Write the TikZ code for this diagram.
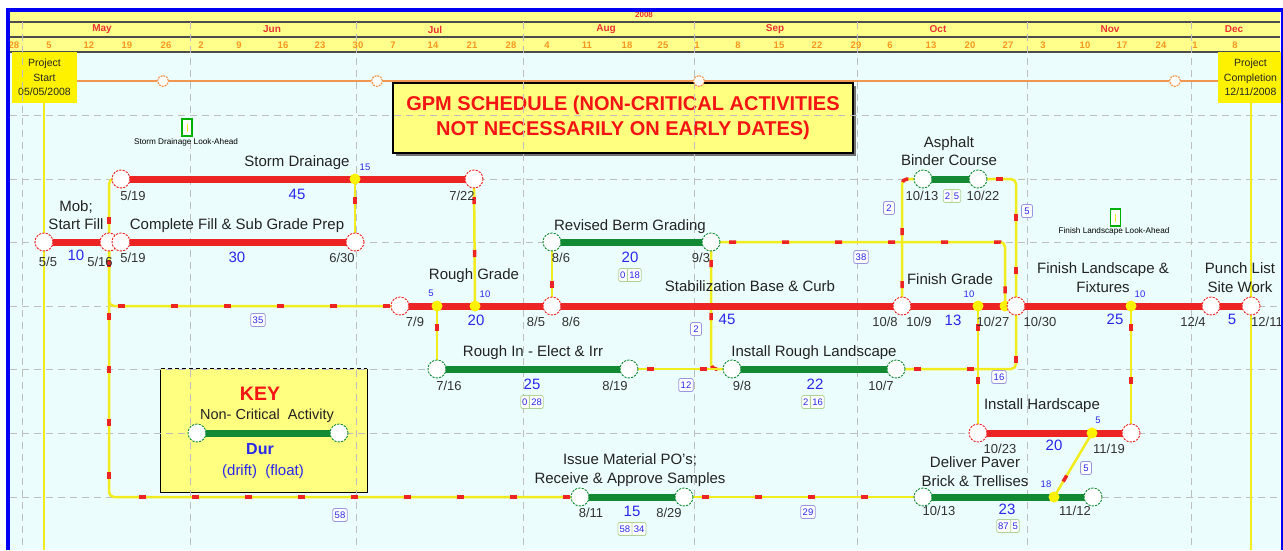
\documentclass[tikz,border=0pt]{standalone}
\usepackage{fontspec}
\setmainfont{Liberation Sans}
\usetikzlibrary{shapes.multipart,calc}
\pgfdeclarelayer{bg}
\pgfdeclarelayer{grid}
\pgfdeclarelayer{links}
\pgfdeclarelayer{bars}
\pgfdeclarelayer{fg}
\pgfsetlayers{bg,grid,links,bars,main,fg}
\definecolor{bgcyan}{RGB}{236,253,253}
\definecolor{hdryel}{RGB}{255,255,140}
\definecolor{boxyel}{RGB}{255,255,128}
\definecolor{frameblue}{RGB}{0,0,245}
\definecolor{critc}{RGB}{236,36,36}
\definecolor{ncritc}{RGB}{18,138,52}
\definecolor{linkyel}{RGB}{240,236,30}
\definecolor{numblue}{RGB}{40,40,235}
\definecolor{datec}{RGB}{50,50,50}
\definecolor{actc}{RGB}{35,35,35}
\definecolor{gridc}{RGB}{190,190,190}
\definecolor{orangec}{RGB}{240,150,80}
\definecolor{dayorange}{RGB}{245,150,30}
\definecolor{monred}{RGB}{235,50,50}
\definecolor{fboxc}{RGB}{150,150,225}
\definecolor{dfboxc}{RGB}{175,210,150}
\definecolor{titlered}{RGB}{245,20,20}
\definecolor{lookgreen}{RGB}{0,175,0}
\newcommand{\myfs}[2]{\fontsize{#1}{#2}\selectfont}
\tikzset{
  critn/.style={circle, draw=critc, fill=white, minimum size=18pt, inner sep=0pt, line width=0.9pt, dash pattern=on 2.2pt off 1.2pt},
  ncritn/.style={critn, draw=ncritc},
  ydot/.style={circle, fill=yellow, minimum size=11pt, inner sep=0pt},
  redbar/.style={line width=7pt, draw=critc},
  greenbar/.style={line width=7pt, draw=ncritc},
  link/.style={draw=linkyel, line width=2.5pt, rounded corners=5pt,
    postaction={draw=critc, line width=3.5pt, dash pattern=on 7pt off 46pt, dash phase=35pt}},
  yline/.style={draw=linkyel, line width=2pt},
  orangeline/.style={draw=orangec, line width=1.5pt},
  gridline/.style={draw=gridc, line width=1pt, dash pattern=on 7pt off 5pt},
  hdrline/.style={draw=black!70, line width=1.3pt},
  act/.style={font=\myfs{15}{18.5}, text=actc, inner sep=0pt, align=center},
  datel/.style={font=\myfs{13}{13}, text=datec, inner sep=0pt},
  durl/.style={font=\myfs{15}{15}, text=numblue, inner sep=0pt},
  sml/.style={font=\myfs{9.5}{9.5}, text=numblue, inner sep=0pt},
  fbox/.style={draw=fboxc, line width=0.8pt, fill=white, rounded corners=2pt, inner xsep=2pt, inner ysep=1.5pt, font=\myfs{9.5}{9.5}, text=numblue, minimum height=13pt, minimum width=11pt},
  dfpair/.style={rectangle split, rectangle split horizontal, rectangle split parts=2, draw=dfboxc, line width=0.8pt, fill=white, rounded corners=2pt, inner xsep=1.5pt, inner ysep=1.5pt, font=\myfs{9.5}{9.5}, text=numblue, minimum height=13pt},
  monlab/.style={font=\bfseries\myfs{10}{10}, text=monred, inner sep=0pt},
  daylab/.style={font=\bfseries\myfs{9.5}{9.5}, text=dayorange, inner sep=0pt},
  msbox/.style={fill=yellow, minimum width=65pt, minimum height=51pt, inner sep=0pt, align=center, font=\myfs{10.5}{14.5}, text=black!85},
  msicon/.style={circle, draw=orangec, fill=white, minimum size=11pt, inner sep=0pt, line width=1.2pt, dash pattern=on 2pt off 1pt},
  lookicon/.style={draw=lookgreen, line width=1.2pt, fill=white, minimum width=10pt, minimum height=17pt, inner sep=0pt},
  looktxt/.style={font=\myfs{8.2}{8.2}, text=black, inner sep=0pt},
}
\begin{document}
\begin{tikzpicture}[x=1pt,y=-1pt]
\useasboundingbox (0,0) rectangle (1283,550);

% ---------- background ----------
\begin{pgfonlayer}{bg}
\fill[white] (0,0) rectangle (1283,550);
\fill[bgcyan] (10,11) rectangle (1280,550);
\fill[hdryel] (10,11) rectangle (1280,52);
\foreach \yy in {22,37,52} \draw[hdrline] (10,\yy) -- (1280,\yy);
\node[msbox] (startbox) at (44.5,77.5) {Project\\Start\\05/05/2008};
\node[msbox] (compbox) at (1250.5,77.5) {Project\\Completion\\12/11/2008};
\fill[black!55] (396,86) rectangle (855.5,155.5);
\node[fill=boxyel, draw=black, line width=1.2pt, minimum width=460pt, minimum height=70pt, inner sep=0pt, align=center, font=\bfseries\myfs{20}{25}, text=titlered] (title) at (623,118) {GPM SCHEDULE (NON-CRITICAL ACTIVITIES\\NOT NECESSARILY ON EARLY DATES)};
\node[fill=boxyel, minimum width=206pt, minimum height=123pt, inner sep=0pt] (key) at (264,430.5) {};
\draw[line width=1.2pt] (key.north west) -- (key.south west) -- (key.south east) -- (key.north east);
\draw[line width=1.2pt, dash pattern=on 4pt off 3pt] (key.north west) -- (key.north east);
\end{pgfonlayer}

% ---------- grid ----------
\begin{pgfonlayer}{grid}
\foreach \xx in {22,190.5,356,523.5,694,857,1027,1191} \draw[gridline] (\xx,22) -- (\xx,550);
\foreach \yy in {115,179,242,306,369,433,497} \draw[gridline] (10,\yy) -- (1280,\yy);
\end{pgfonlayer}

% ---------- header text ----------
\node[font=\bfseries\myfs{8}{8}, text=monred, inner sep=0pt] (year) at (644,14.5) {2008};
\foreach \xx/\mm [count=\i] in {102/May,272/Jun,435/Jul,606/Aug,775/Sep,938/Oct,1110/Nov,1234/Dec}
  {\node[monlab] (mon\i) at (\xx,29.5) {\mm};}
\foreach \xx/\dd [count=\i] in {14/28,49/5,89/12,127/19,166/26,201/2,239/9,283/16,320/23,358/30,393/7,433/14,472/21,511/28,547/4,587/11,627/18,663/25,697/1,738/8,779/15,817/22,856/29,890/6,931/13,970/20,1008/27,1043/3,1085/10,1122/17,1161/24,1195/1,1235/8}
  {\node[daylab] (day\i) at (\xx,45) {\dd};}

% ---------- milestone icons & look-ahead ----------
\node[msicon] (m1) at (163,81) {};
\node[msicon] (m2) at (377,81) {};
\node[msicon] (m3) at (699,81) {};
\node[msicon] (m4) at (1175,81) {};
\node[lookicon] (la1) at (187,127.5) {\color{linkyel}\rule{1pt}{8pt}};
\node[looktxt] (lt1) at (186,142) {Storm Drainage Look-Ahead};
\node[lookicon] (la2) at (1115.5,217.5) {\color{linkyel}\rule{1pt}{8pt}};
\node[looktxt] (lt2) at (1114,231) {Finish Landscape Look-Ahead};

% ---------- event nodes ----------
\node[critn] (s55) at (44,242) {};
\node[critn] (s516) at (109,242) {};
\node[critn] (s519b) at (121,242) {};
\node[critn] (s519a) at (121,179) {};
\node[ydot] (sd15) at (355,179) {};
\node[critn] (s722) at (474,179) {};
\node[critn] (s630) at (355,242) {};
\node[critn] (s79) at (400,306) {};
\node[ydot] (rg5) at (437,306) {};
\node[ydot] (rg10) at (475,306) {};
\node[critn] (s85) at (552,306) {};
\node[ncritn] (rb86) at (552,242) {};
\node[ncritn] (rb93) at (711,242) {};
\node[ncritn] (ri716) at (437,369) {};
\node[ncritn] (ri819) at (629,369) {};
\node[ncritn] (irl98) at (732,369) {};
\node[ncritn] (irl107) at (896,369) {};
\node[critn] (s108) at (902,306) {};
\node[ncritn] (ab1013) at (923,179) {};
\node[ncritn] (ab1022) at (978,179) {};
\node[ydot] (fg10) at (978,306) {};
\node[ydot] (fg27) at (1005,306) {};
\node[critn] (s1030) at (1016,306) {};
\node[ydot] (fl10) at (1131,306) {};
\node[critn] (s124) at (1211,306) {};
\node[critn] (s1211) at (1251,306) {};
\node[critn] (ih1023) at (978,433) {};
\node[ydot] (ih5) at (1092,433) {};
\node[critn] (ih1119) at (1131,433) {};
\node[ncritn] (ip811) at (580,497) {};
\node[ncritn] (ip829) at (684,497) {};
\node[ncritn] (dp1013) at (923,497) {};
\node[ydot] (dp18) at (1054,497) {};
\node[ncritn] (dp1112) at (1093,497) {};
\node[ncritn] (k1) at (197,433) {};
\node[ncritn] (k2) at (339,433) {};

% ---------- labels ----------
\node[act] (tSD) at (297,163) {Storm Drainage};
\node[durl] (dSD) at (297,194) {45};
\node[datel] (a1) at (133,196) {5/19};
\node[datel] (a2) at (462,196) {7/22};
\node[sml] (n15) at (365,167) {15};
\node[act] (tMob) at (76,215) {Mob;\\Start Fill};
\node[durl] (dMob) at (76,255) {10};
\node[datel] (a3) at (48,262) {5/5};
\node[datel] (a4) at (100,262) {5/16};
\node[datel] (a5) at (133,258) {5/19};
\node[act] (tCF) at (237,226) {Complete Fill \& Sub Grade Prep};
\node[durl] (dCF) at (237,257) {30};
\node[datel] (a6) at (342,258) {6/30};
\node[act] (tRB) at (630,227) {Revised Berm Grading};
\node[durl] (dRB) at (630,257) {20};
\node[datel] (a7) at (561,258) {8/6};
\node[datel] (a8) at (701,258) {9/3};
\node[dfpair] (pRB) at (630,275) {0\nodepart{two}18};
\node[act] (tRG) at (474,276) {Rough Grade};
\node[sml] (n5a) at (431,293) {5};
\node[sml] (n10a) at (485,294) {10};
\node[datel] (a9) at (415,322) {7/9};
\node[durl] (dRG) at (476,320) {20};
\node[datel] (a10) at (536,322) {8/5};
\node[datel] (a11) at (571,322) {8/6};
\node[act] (tSB) at (750,286) {Stabilization Base \& Curb};
\node[durl] (dSB) at (727,319) {45};
\node[act] (tRI) at (533,353) {Rough In - Elect \& Irr};
\node[datel] (a12) at (449,386) {7/16};
\node[durl] (dRI) at (532,384) {25};
\node[datel] (a13) at (615,386) {8/19};
\node[dfpair] (pRI) at (532,402) {0\nodepart{two}28};
\node[act] (tIRL) at (814,353) {Install Rough Landscape};
\node[datel] (a14) at (742,386) {9/8};
\node[durl] (dIRL) at (815,384) {22};
\node[datel] (a15) at (881,386) {10/7};
\node[dfpair] (pIRL) at (813,402) {2\nodepart{two}16};
\node[act] (tAB) at (949,151) {Asphalt\\Binder Course};
\node[datel] (a16) at (922,196) {10/13};
\node[datel] (a17) at (983,196) {10/22};
\node[dfpair] (pAB) at (952,196) {2\nodepart{two}5};
\node[act] (tFG) at (950,279) {Finish Grade};
\node[sml] (n10b) at (969,294) {10};
\node[datel] (a18) at (885,322) {10/8};
\node[datel] (a19) at (919,322) {10/9};
\node[durl] (dFG) at (953,320) {13};
\node[datel] (a20) at (993,322) {10/27};
\node[datel] (a21) at (1040,322) {10/30};
\node[act] (tFL) at (1103,277.5) {Finish Landscape \&\\Fixtures};
\node[sml] (n10c) at (1140,294) {10};
\node[durl] (dFL) at (1115,319) {25};
\node[datel] (a22) at (1193,322) {12/4};
\node[act] (tPL) at (1240,277.5) {Punch List\\Site Work};
\node[durl] (dPL) at (1232,319) {5};
\node[datel] (a23) at (1267,322) {12/11};
\node[act] (tIH) at (1042,406) {Install Hardscape};
\node[sml] (n5b) at (1098,420) {5};
\node[datel] (a24) at (1000,449) {10/23};
\node[durl] (dIH) at (1054,445) {20};
\node[datel] (a25) at (1109,449) {11/19};
\node[act] (tDP) at (975,471.5) {Deliver Paver\\Brick \& Trellises};
\node[sml] (n18) at (1046,484) {18};
\node[datel] (a26) at (939,511) {10/13};
\node[durl] (dDP) at (1007,509) {23};
\node[datel] (a27) at (1075,511) {11/12};
\node[dfpair] (pDP) at (1008,526) {87\nodepart{two}5};
\node[act] (tIP) at (630,470) {Issue Material PO's;\\Receive \& Approve Samples};
\node[datel] (a28) at (591,513) {8/11};
\node[durl] (dIP) at (632,511) {15};
\node[datel] (a29) at (669,513) {8/29};
\node[dfpair] (pIP) at (632,529) {58\nodepart{two}34};
\foreach \xx/\yy/\vv [count=\i] in {258/320/35, 340/515/58, 861/257/38, 889/208/2, 1027/211/5, 696/329/2, 686/385/12, 999/377/16, 1086/468/5, 808/512/29}
  {\node[fbox] (fb\i) at (\xx,\yy) {\vv};}

% key texts
\node[font=\bfseries\myfs{19.5}{19.5}, text=titlered, inner sep=0pt] (kKEY) at (260,394) {KEY};
\node[font=\myfs{14.5}{14.5}, text=actc, inner sep=0pt] (kNC) at (267,416) {Non- Critical\ \ Activity};
\node[font=\bfseries\myfs{16}{16}, text=numblue, inner sep=0pt] (kDur) at (260,449) {Dur};
\node[font=\myfs{15}{15}, text=numblue, inner sep=0pt] (kDF) at (263,472) {(drift)\ \ (float)};

% ---------- connectors ----------
\coordinate (bL) at (44,550);
\coordinate (bR) at (1251,550);
\begin{pgfonlayer}{links}
\draw[orangeline] (startbox.east |- m1) -- (m1) -- (m2) -- (m3) -- (m4) -- (compbox.west |- m4);
\draw[yline] (startbox.south -| bL) -- (bL);
\draw[yline] (compbox.south -| bR) -- (bR);
\draw[link] (s516.center) |- (s519a.center);
\draw[link] (s516.center) |- (s79.center);
\draw[link] (s516.center) |- (ip811.center);
\draw[link] (sd15.center) -- (s630.center);
\draw[link] (s722.center) -- (rg10.center);
\draw[link] (rg5.center) -- (ri716.center);
\draw[link] (s85.center) -- (rb86.center);
\draw[link] (rb93.center) |- (irl98.center);
\draw[link] (ri819.center) -- (irl98.center);
\draw[link] (rb93.center) -| (fg27.center);
\draw[link] (s108.center) |- (ab1013.center);
\draw[link] (ab1022.center) -| (s1030.center);
\draw[link] (irl107.center) -| (s1030.center);
\draw[link] (fg10.center) -- (ih1023.center);
\draw[link] (fl10.center) -- (ih1119.center);
\draw[link] (dp18.center) -- (ih5.center);
\draw[link] (ip829.center) -- (dp1013.center);
\end{pgfonlayer}

\begin{pgfonlayer}{bars}
\draw[redbar] (s55.center) -- (s516.center);
\draw[redbar] (s519a.center) -- (s722.center);
\draw[redbar] (s519b.center) -- (s630.center);
\draw[redbar] (s79.center) -- (s85.center);
\draw[redbar] (s85.center) -- (s108.center);
\draw[redbar] (s108.center) -- (s1030.center);
\draw[redbar] (s1030.center) -- (s124.center);
\draw[redbar] (s124.center) -- (s1211.center);
\draw[redbar] (ih1023.center) -- (ih1119.center);
\draw[greenbar] (rb86.center) -- (rb93.center);
\draw[greenbar] (ri716.center) -- (ri819.center);
\draw[greenbar] (irl98.center) -- (irl107.center);
\draw[greenbar] (ab1013.center) -- (ab1022.center);
\draw[greenbar] (ip811.center) -- (ip829.center);
\draw[greenbar] (dp1013.center) -- (dp1112.center);
\draw[greenbar] (k1.center) -- (k2.center);
\end{pgfonlayer}

% ---------- frame ----------
\begin{pgfonlayer}{fg}
\fill[white] (0,0) rectangle (1283,8);
\fill[white] (0,0) rectangle (6,550);
\fill[frameblue] (6,8) rectangle (10,550);
\fill[frameblue] (6,8) rectangle (1283,11.5);
\fill[frameblue] (1280.5,8) rectangle (1283,550);
\end{pgfonlayer}
\end{tikzpicture}
\end{document}
